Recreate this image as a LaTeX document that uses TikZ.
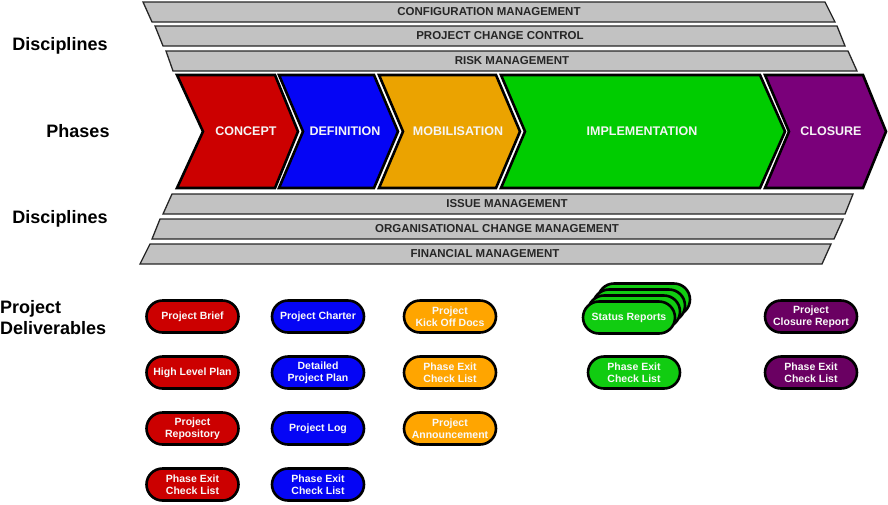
\documentclass[tikz,border=0pt]{standalone}
\usepackage{fontspec}
\setmainfont{Liberation Sans}
\usetikzlibrary{shapes.misc}
\definecolor{cred}{HTML}{CC0000}
\definecolor{cblue}{HTML}{0505F5}
\definecolor{corange}{HTML}{EBA300}
\definecolor{porange}{HTML}{FFA500}
\definecolor{cgreen}{HTML}{00CC00}
\definecolor{pgreen}{HTML}{11CC11}
\definecolor{cpurple}{HTML}{7A007A}
\definecolor{ppurple}{HTML}{6A0062}
\definecolor{barg}{HTML}{C2C2C2}
\begin{document}
\begin{tikzpicture}[x=1pt,y=-1pt,
  bar/.style={fill=barg, draw=black!85, line width=1.3pt, line join=miter},
  bartext/.style={font=\fontsize{11.5}{13}\selectfont\bfseries, text=black!85},
  chev/.style={draw=black, line width=2.6pt, line join=miter},
  chevtext/.style={font=\fontsize{12.5}{14}\selectfont\bfseries, text=white!92!gray},
  pill/.style={rounded rectangle, draw=black, line width=2.6pt, minimum width=94pt, minimum height=32pt, inner sep=1pt, align=center, font=\fontsize{10.5}{12}\selectfont\bfseries, text=white!95!gray},
  side/.style={font=\fontsize{18}{21}\selectfont\bfseries}]
\useasboundingbox (0,0) rectangle (888,504);

% upper discipline bars
\draw[bar] (143,2) -- (825,2) -- (835,22) -- (152,22) -- cycle;
\node[bartext] (cfg) at (489,12) {CONFIGURATION MANAGEMENT};
\draw[bar] (155,26) -- (837,26) -- (845,46) -- (163,46) -- cycle;
\node[bartext] (pcc) at (500,36) {PROJECT CHANGE CONTROL};
\draw[bar] (166,51) -- (848,51) -- (857,71) -- (173,71) -- cycle;
\node[bartext] (risk) at (512,61) {RISK MANAGEMENT};

% phase chevrons
\draw[chev, fill=cred] (177,75) -- (275,75) -- (298,131.5) -- (275,188) -- (177,188) -- (203,131.5) -- cycle;
\node[chevtext] (concept) at (246,131.5) {CONCEPT};
\draw[chev, fill=cblue] (279,75) -- (374,75) -- (398,131.5) -- (374,188) -- (279,188) -- (303,131.5) -- cycle;
\node[chevtext] (definition) at (345,131.5) {DEFINITION};
\draw[chev, fill=corange] (379,75) -- (496,75) -- (520,131.5) -- (496,188) -- (379,188) -- (403,131.5) -- cycle;
\node[chevtext] (mobilisation) at (458,131.5) {MOBILISATION};
\draw[chev, fill=cgreen] (501,75) -- (760,75) -- (785,131.5) -- (760,188) -- (501,188) -- (525,131.5) -- cycle;
\node[chevtext] (implementation) at (642,131.5) {IMPLEMENTATION};
\draw[chev, fill=cpurple] (765,75) -- (863,75) -- (886,131.5) -- (863,188) -- (765,188) -- (789,131.5) -- cycle;
\node[chevtext] (closure) at (831,131.5) {CLOSURE};

% lower discipline bars
\draw[bar] (172,194) -- (853,194) -- (845,214) -- (163,214) -- cycle;
\node[bartext] (issue) at (507,204) {ISSUE MANAGEMENT};
\draw[bar] (160,219) -- (843,219) -- (834,239) -- (152,239) -- cycle;
\node[bartext] (ocm) at (497,229) {ORGANISATIONAL CHANGE MANAGEMENT};
\draw[bar] (150,244) -- (831,244) -- (822,264) -- (140,264) -- cycle;
\node[bartext] (fin) at (485,254) {FINANCIAL MANAGEMENT};

% side labels
\node[side] (disc1) at (60,46) {Disciplines};
\node[side] (phases) at (78,131) {Phases};
\node[side] (disc2) at (60,219) {Disciplines};
\node[side, align=left, anchor=west, inner sep=0pt] (deliv) at (0,318) {Project\\Deliverables};

% deliverables: concept
\node[pill, fill=cred] (d11) at (192.5,316.5) {Project Brief};
\node[pill, fill=cred] (d12) at (192.5,372.5) {High Level Plan};
\node[pill, fill=cred] (d13) at (192.5,428.5) {Project\\Repository};
\node[pill, fill=cred] (d14) at (192.5,484.5) {Phase Exit\\Check List};
% definition
\node[pill, fill=cblue] (d21) at (318,316.5) {Project Charter};
\node[pill, fill=cblue] (d22) at (318,372.5) {Detailed\\Project Plan};
\node[pill, fill=cblue] (d23) at (318,428.5) {Project Log};
\node[pill, fill=cblue] (d24) at (318,484.5) {Phase Exit\\Check List};
% mobilisation
\node[pill, fill=porange] (d31) at (450,316.5) {Project\\Kick Off Docs};
\node[pill, fill=porange] (d32) at (450,372.5) {Phase Exit\\Check List};
\node[pill, fill=porange] (d33) at (450,428.5) {Project\\Announcement};
% implementation
\node[pill, fill=pgreen] (d41c) at (644,299.5) {};
\node[pill, fill=pgreen] (d41b) at (639,305.5) {};
\node[pill, fill=pgreen] (d41a) at (634,311.5) {};
\node[pill, fill=pgreen] (d41) at (629,317.5) {Status Reports};
\node[pill, fill=pgreen] (d42) at (634,372.5) {Phase Exit\\Check List};
% closure
\node[pill, fill=ppurple] (d51) at (811,316.5) {Project\\Closure Report};
\node[pill, fill=ppurple] (d52) at (811,372.5) {Phase Exit\\Check List};
\end{tikzpicture}
\end{document}
